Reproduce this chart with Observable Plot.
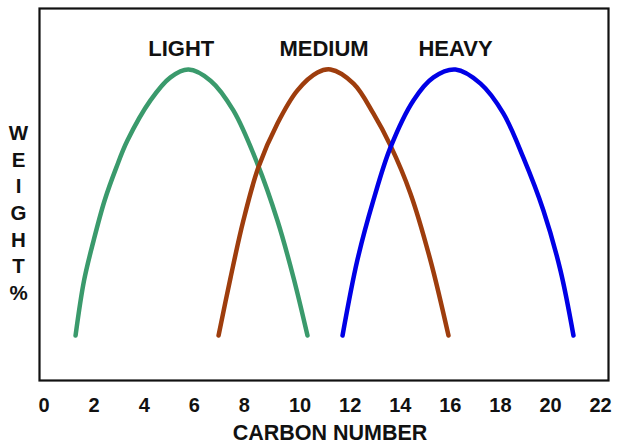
<!DOCTYPE html>
<html>
<head>
<meta charset="utf-8">
<script src="https://cdn.jsdelivr.net/npm/d3@7"></script>
<script src="https://cdn.jsdelivr.net/npm/@observablehq/plot@0.6"></script>
<style>
  html, body { margin: 0; padding: 0; background: #fff; }
  #chart svg { display: block; }
</style>
</head>
<body>
<div id="chart"></div>
<script>
// Series (carbon number, weight % in arbitrary units 0-100)
const lightX  = [1.28, 1.62, 2.00, 2.44, 2.91, 3.35, 4.27, 5.07, 5.79, 6.67, 7.58, 8.54, 9.34, 9.98, 10.54];
const lightY  = [12.1, 26.9, 37.6, 48.4, 57.3, 64.5, 75.3, 81.5, 83.6, 80.6, 72.6, 58.3, 43.0, 27.7, 12.1];
const mediumX = [6.99, 7.47, 7.98, 8.58, 9.34, 10.14, 10.94, 11.46, 12.38, 13.17, 13.85, 14.65, 15.45, 16.17];
const mediumY = [12.1, 27.7, 43.0, 57.3, 69.1, 78.0, 82.8, 83.6, 79.8, 71.8, 63.2, 50.3, 32.3, 12.1];
const heavyX  = [11.94, 12.53, 13.17, 13.85, 14.77, 15.57, 16.45, 17.45, 18.36, 19.16, 19.96, 20.64, 21.16];
const heavyY  = [12.1, 32.3, 48.4, 62.6, 75.3, 81.5, 83.6, 79.8, 71.8, 59.9, 45.7, 29.6, 12.1];

const seriesNames  = ["LIGHT", "MEDIUM", "HEAVY"];
const seriesColors = ["#3a9a6c", "#9e3d0d", "#0000e6"];
const labelX = [5.5, 11.2, 16.45];
const labelY = [89.2, 89.2, 89.2];

const xTicks = [0, 2, 4, 6, 8, 10, 12, 14, 16, 18, 20, 22];
const xTitle = "CARBON NUMBER";
const yTitle = "WEIGHT %";

const rows = [];
[[lightX, lightY], [mediumX, mediumY], [heavyX, heavyY]].forEach(([xs, ys], i) => {
  xs.forEach((x, j) => rows.push({series: seriesNames[i], x, y: ys[j]}));
});
const labels = seriesNames.map((name, i) => ({name, x: labelX[i], y: labelY[i]}));

const font = "'Liberation Sans', Arial, sans-serif";

const chart = Plot.plot({
  width: 623,
  height: 448,
  marginLeft: 39,
  marginRight: 15,
  marginTop: 8,
  marginBottom: 68,
  style: {fontFamily: font, background: "#fff", color: "#111"},
  x: {domain: [0, 22], range: [43, 594]},
  y: {domain: [0, 100]},
  color: {domain: seriesNames, range: seriesColors},
  marks: [
    Plot.frame({stroke: "#111", strokeWidth: 2.2}),
    Plot.line(rows, {
      x: "x", y: "y", z: "series", stroke: "series",
      strokeWidth: 4.5, curve: "catmull-rom", strokeLinecap: "round"
    }),
    Plot.text(labels, {
      x: "x", y: "y", text: "name",
      fontSize: 22, fontWeight: "bold", fill: "#111", fontFamily: font
    }),
    Plot.axisX({
      ticks: xTicks, tickSize: 0, tickPadding: 17, label: null,
      fontSize: 20, fontWeight: "bold", textAnchor: "start", dx: -5,
      fill: "#111", fontFamily: font
    }),
    Plot.axisY({ticks: [], label: null}),
    Plot.text([xTitle], {
      frameAnchor: "bottom", dx: 6, dy: 59, text: d => d,
      fontSize: 21.5, fontWeight: "bold", fill: "#111", fontFamily: font
    }),
    Plot.text([yTitle.replace(" ", "").split("").join("\n")], {
      frameAnchor: "left", dx: -21, dy: 17, text: d => d,
      lineHeight: 1.3, textAnchor: "middle",
      fontSize: 20.5, fontWeight: "bold", fill: "#111", fontFamily: font
    })
  ]
});

document.getElementById("chart").appendChild(chart);
</script>
</body>
</html>
